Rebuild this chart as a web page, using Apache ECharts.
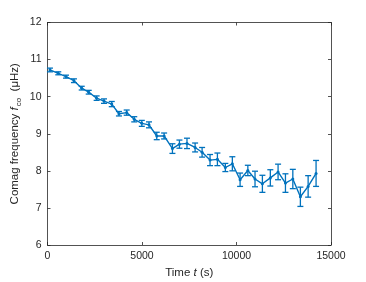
<!DOCTYPE html>
<html>
<head>
<meta charset="utf-8">
<script src="https://cdn.jsdelivr.net/npm/echarts@6/dist/echarts.min.js"></script>
<style>html,body{margin:0;padding:0;background:#fff;}#c{width:366px;height:282px;}</style>
</head>
<body>
<div id="c"></div>
<script>
const times = [130, 570, 980, 1400, 1810, 2180, 2600, 2990, 3400, 3780, 4190, 4590, 4990, 5370, 5780, 6170, 6610, 6980, 7380, 7810, 8180, 8600, 8990, 9410, 9780, 10190, 10600, 10980, 11370, 11790, 12200, 12590, 12980, 13380, 13790, 14210];
const freqs = [10.72, 10.63, 10.54, 10.43, 10.23, 10.12, 9.96, 9.88, 9.80, 9.54, 9.57, 9.39, 9.28, 9.24, 8.94, 8.94, 8.60, 8.72, 8.74, 8.63, 8.50, 8.29, 8.31, 8.09, 8.19, 7.76, 8.01, 7.78, 7.65, 7.81, 7.97, 7.67, 7.78, 7.30, 7.58, 7.93];
const errs = [0.05, 0.04, 0.04, 0.05, 0.05, 0.05, 0.06, 0.06, 0.07, 0.06, 0.07, 0.07, 0.08, 0.08, 0.10, 0.08, 0.13, 0.11, 0.14, 0.12, 0.13, 0.15, 0.17, 0.11, 0.19, 0.18, 0.14, 0.21, 0.23, 0.22, 0.21, 0.25, 0.26, 0.26, 0.29, 0.35];
const xTicks = [0, 5000, 10000, 15000];
const yTicks = [6, 7, 8, 9, 10, 11, 12];

const color = '#0072BD';
const axisColor = '#262626';
const lineData = times.map((t, i) => [t, freqs[i]]);
const errData = times.map((t, i) => [t, freqs[i] - errs[i], freqs[i] + errs[i]]);

const chart = echarts.init(document.getElementById('c'), null, {renderer: 'canvas'});
const baseAxis = {
  axisLine: {show: true, onZero: false, lineStyle: {color: axisColor, width: 0.8}},
  axisTick: {show: true, inside: true, length: 3, lineStyle: {color: axisColor, width: 0.8}},
  splitLine: {show: false},
  axisLabel: {color: axisColor, fontFamily: 'Liberation Sans', fontSize: 10.5, formatter: v => String(v)}
};
chart.setOption({
  animation: false,
  backgroundColor: '#fff',
  grid: {left: 47.5, right: 35, top: 22.5, bottom: 37, containLabel: false, outerBoundsMode: 'none'},
  xAxis: [
    Object.assign({}, baseAxis, {
      type: 'value', min: xTicks[0], max: xTicks[xTicks.length - 1], interval: 5000,
      name: 'Time {i|t} (s)', nameLocation: 'middle', nameGap: 22, nameMoveOverlap: false,
      nameTextStyle: {color: axisColor, fontFamily: 'Liberation Sans', fontSize: 11.5,
        rich: {i: {fontStyle: 'italic', fontFamily: 'Liberation Sans', fontSize: 11.5, color: axisColor}}},
      axisLabel: Object.assign({}, baseAxis.axisLabel, {margin: 6})
    }),
    Object.assign({}, baseAxis, {
      type: 'value', position: 'top', min: xTicks[0], max: xTicks[xTicks.length - 1], interval: 5000,
      axisLabel: {show: false}
    })
  ],
  yAxis: [
    Object.assign({}, baseAxis, {
      type: 'value', min: yTicks[0], max: yTicks[yTicks.length - 1], interval: 1,
      name: '{a|Comag frequency }{i|f}{s|co}{a|  (μHz)}', nameLocation: 'middle', nameGap: 25, nameRotate: 90,
      nameMoveOverlap: false,
      nameTextStyle: {color: axisColor, fontFamily: 'Liberation Sans', fontSize: 11.5,
        rich: {
          a: {fontFamily: 'Liberation Sans', fontSize: 11.5, color: axisColor, lineHeight: 16, verticalAlign: 'middle'},
          i: {fontStyle: 'italic', fontFamily: 'Liberation Sans', fontSize: 11.5, color: axisColor, lineHeight: 16, verticalAlign: 'middle'},
          s: {fontFamily: 'Liberation Sans', fontSize: 8, color: axisColor, lineHeight: 16, verticalAlign: 'bottom', padding: [6, 0, 0, 1]}
        }},
      axisLabel: Object.assign({}, baseAxis.axisLabel, {margin: 6})
    }),
    Object.assign({}, baseAxis, {
      type: 'value', position: 'right', min: yTicks[0], max: yTicks[yTicks.length - 1], interval: 1,
      axisLabel: {show: false}
    })
  ],
  series: [
    {
      type: 'custom',
      xAxisIndex: 0, yAxisIndex: 0,
      data: errData,
      encode: {x: 0, y: [1, 2]},
      renderItem: function (params, api) {
        const x = api.value(0);
        const lo = api.coord([x, api.value(1)]);
        const hi = api.coord([x, api.value(2)]);
        const hw = 3;
        const style = {stroke: color, lineWidth: 1.3, fill: null};
        return {
          type: 'group',
          children: [
            {type: 'line', shape: {x1: lo[0], y1: lo[1], x2: hi[0], y2: hi[1]}, style: style},
            {type: 'line', shape: {x1: lo[0] - hw, y1: lo[1], x2: lo[0] + hw, y2: lo[1]}, style: style},
            {type: 'line', shape: {x1: hi[0] - hw, y1: hi[1], x2: hi[0] + hw, y2: hi[1]}, style: style}
          ]
        };
      },
      z: 2
    },
    {
      type: 'line',
      xAxisIndex: 0, yAxisIndex: 0,
      data: lineData,
      symbol: 'circle', symbolSize: 3,
      itemStyle: {color: color},
      lineStyle: {color: color, width: 1.4},
      z: 3
    }
  ]
});
</script>
</body>
</html>
